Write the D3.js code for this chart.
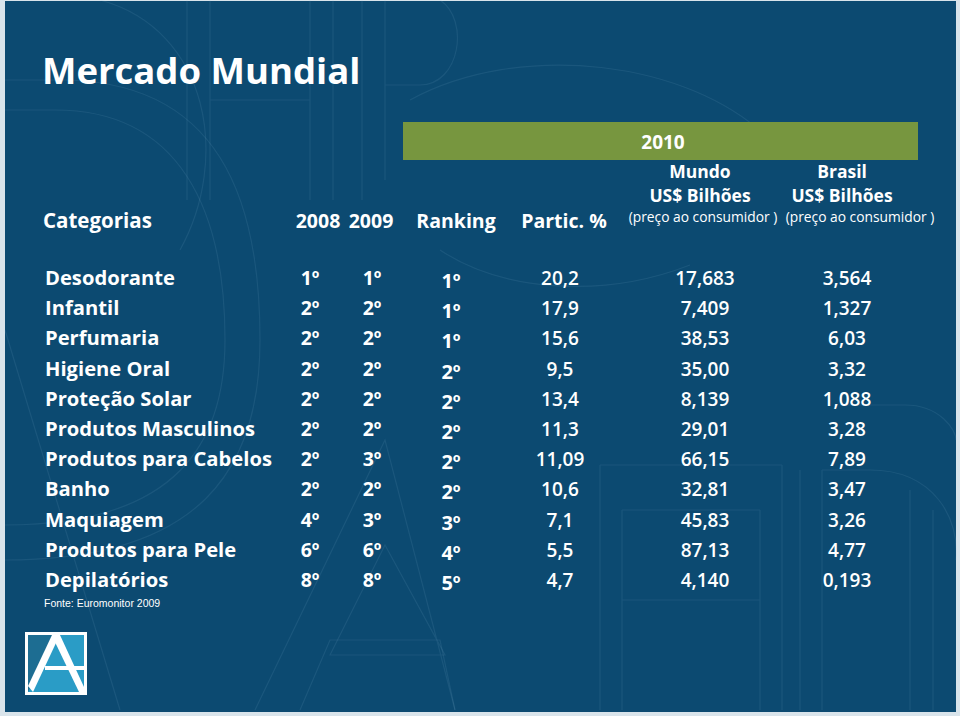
<!DOCTYPE html>
<html><head><meta charset="utf-8">
<script src="https://cdn.jsdelivr.net/npm/d3@7"></script>
<style>
html,body{margin:0;padding:0;background:#d9e4eb;}
svg{display:block;}
text{font-family:"Open Sans","DejaVu Sans",sans-serif;fill:#fff;}
</style></head>
<body>
<svg id="c" width="960" height="716"></svg>
<script>
const title = "Mercado Mundial";
const yearLabel = "2010";
const headers = ["Categorias", "2008", "2009", "Ranking", "Partic. %"];
const mundoHead = ["Mundo", "US$ Bilhões", "(preço ao consumidor )"];
const brasilHead = ["Brasil", "US$ Bilhões", "(preço ao consumidor )"];
const categories = ["Desodorante","Infantil","Perfumaria","Higiene Oral","Proteção Solar","Produtos Masculinos","Produtos para Cabelos","Banho","Maquiagem","Produtos para Pele","Depilatórios"];
const rank2008 = ["1º","2º","2º","2º","2º","2º","2º","2º","4º","6º","8º"];
const rank2009 = ["1º","2º","2º","2º","2º","2º","3º","2º","3º","6º","8º"];
const ranking2010 = ["1º","1º","1º","2º","2º","2º","2º","2º","3º","4º","5º"];
const partic = ["20,2","17,9","15,6","9,5","13,4","11,3","11,09","10,6","7,1","5,5","4,7"];
const mundo = ["17,683","7,409","38,53","35,00","8,139","29,01","66,15","32,81","45,83","87,13","4,140"];
const brasil = ["3,564","1,327","6,03","3,32","1,088","3,28","7,89","3,47","3,26","4,77","0,193"];
const source = "Fonte: Euromonitor 2009";

const svg = d3.select("#c");
const bg = "#0c4a71", green = "#77963f";

// slide background
svg.append("rect").attr("x",5).attr("y",1).attr("width",951).attr("height",711).attr("fill",bg);

// faint watermark outlines
const wm = svg.append("g").attr("fill","none").attr("stroke","rgba(150,190,215,0.11)").attr("stroke-width",1.2);
wm.append("path").attr("d","M5,80 L60,80 C220,80 260,200 260,340 C260,470 200,560 5,560");
wm.append("path").attr("d","M5,110 L55,110 C180,110 225,210 225,340 C225,440 180,525 5,525");
wm.append("path").attr("d","M100,0 C210,30 230,160 180,250");
wm.append("path").attr("d","M5,330 L120,710");
wm.append("path").attr("d","M187,0 V200 M210,0 V200 M310,0 V200 M333,0 V200 M210,100 H310");
wm.append("path").attr("d","M362,0 V200 M385,0 V180 M385,85 H420 C460,85 470,20 440,0");
wm.append("path").attr("d","M255,710 L385,440 L455,710 M330,655 L385,545 L445,655 Z");
wm.append("path").attr("d","M300,710 L330,640 H440 L455,710");
wm.append("path").attr("d","M600,465 V710 M622,510 V710 M760,510 V710 M782,465 V710 M622,600 H760 M622,510 H760 M600,465 H782");
wm.append("path").attr("d","M800,470 V710 M822,470 V710 M822,470 H870 C935,470 960,520 956,560");
wm.append("path").attr("d","M845,405 H905 C940,405 956,430 956,440");
wm.append("path").attr("d","M910,490 V710 M933,510 V710");
wm.append("path").attr("d","M440,250 C500,290 600,300 690,265 M410,100 C520,40 690,60 770,140");

// title
svg.append("text").attr("x",42).attr("y",84).attr("font-size",36.5).attr("font-weight",700).text(title);

// green 2010 bar
const x0 = 403, x1 = 918;
svg.append("rect").attr("x",x0).attr("y",122).attr("width",x1-x0).attr("height",38).attr("fill",green);
svg.append("text").attr("x",663).attr("y",149).attr("text-anchor","middle").attr("font-size",19).attr("font-weight",700).text(yearLabel);

// column centers
const col = {cat:45, y2008:310, y2009:372, rank:451, partic:560, mundo:705, brasil:847};

// headers
const hy = 228;
svg.append("text").attr("x",43).attr("y",hy).attr("font-size",20.5).attr("font-weight",700).text(headers[0]);
svg.append("text").attr("x",318).attr("y",hy).attr("text-anchor","middle").attr("font-size",19.5).attr("font-weight",700).text(headers[1]);
svg.append("text").attr("x",371).attr("y",hy).attr("text-anchor","middle").attr("font-size",19.5).attr("font-weight",700).text(headers[2]);
svg.append("text").attr("x",456).attr("y",hy).attr("text-anchor","middle").attr("font-size",19.5).attr("font-weight",700).text(headers[3]);
svg.append("text").attr("x",564).attr("y",hy).attr("text-anchor","middle").attr("font-size",19.5).attr("font-weight",700).text(headers[4]);

function headBlock(cx, cxSmall, lines){
  svg.append("text").attr("x",cx).attr("y",178).attr("text-anchor","middle").attr("font-size",17.5).attr("font-weight",700).text(lines[0]);
  svg.append("text").attr("x",cx).attr("y",202).attr("text-anchor","middle").attr("font-size",17.5).attr("font-weight",700).text(lines[1]);
  svg.append("text").attr("x",cxSmall).attr("y",222).attr("text-anchor","middle").attr("font-size",13.8).attr("font-weight",400).text(lines[2]);
}
headBlock(700, 703, mundoHead);
headBlock(842, 860, brasilHead);

// rows
const y = d3.scalePoint().domain(categories).range([278, 580]);
const rows = categories.map((c,i)=>({c, r8:rank2008[i], r9:rank2009[i], rk:ranking2010[i], p:partic[i], m:mundo[i], b:brasil[i]}));
const g = svg.append("g");
const rowG = g.selectAll("g.row").data(rows).join("g").attr("class","row")
  .attr("transform", d=>`translate(0,${y(d.c)+7})`);
rowG.append("text").attr("x",col.cat).attr("font-size",20.2).attr("font-weight",700).text(d=>d.c);
rowG.append("text").attr("x",col.y2008).attr("text-anchor","middle").attr("font-size",19.5).attr("font-weight",700).text(d=>d.r8);
rowG.append("text").attr("x",col.y2009).attr("text-anchor","middle").attr("font-size",19.5).attr("font-weight",700).text(d=>d.r9);
rowG.append("text").attr("x",col.rank).attr("y",3).attr("text-anchor","middle").attr("font-size",20).attr("font-weight",700).text(d=>d.rk);
rowG.append("text").attr("x",col.partic).attr("text-anchor","middle").attr("font-size",19).attr("font-weight",600).text(d=>d.p);
rowG.append("text").attr("x",col.mundo).attr("text-anchor","middle").attr("font-size",19).attr("font-weight",600).text(d=>d.m);
rowG.append("text").attr("x",col.brasil).attr("text-anchor","middle").attr("font-size",19).attr("font-weight",600).text(d=>d.b);

// source
svg.append("text").attr("x",44).attr("y",607).style("font-family","'Liberation Sans',Arial,sans-serif").attr("font-size",10.5).text(source);

// logo
const lg = svg.append("g").attr("transform","translate(25,632)");
lg.append("rect").attr("x",0).attr("y",0).attr("width",62).attr("height",63).attr("fill","#fff");
lg.append("rect").attr("x",3).attr("y",3).attr("width",56).attr("height",57).attr("fill","#1d6d92");
lg.append("path").attr("d","M3,60 L31,3 L59,3 L59,60 Z").attr("fill","#2a9cc6");
lg.append("path").attr("d","M8,60 L31,11 L31,3 L27,3 L3,54 Z").attr("fill","#fff");
lg.append("path").attr("d","M29,8 L31,3 L35,3 L59,55 L59,60 L54,60 Z").attr("fill","#fff");
lg.append("rect").attr("x",20).attr("y",34).attr("width",39).attr("height",4).attr("fill","#fff");
</script>
</body></html>
